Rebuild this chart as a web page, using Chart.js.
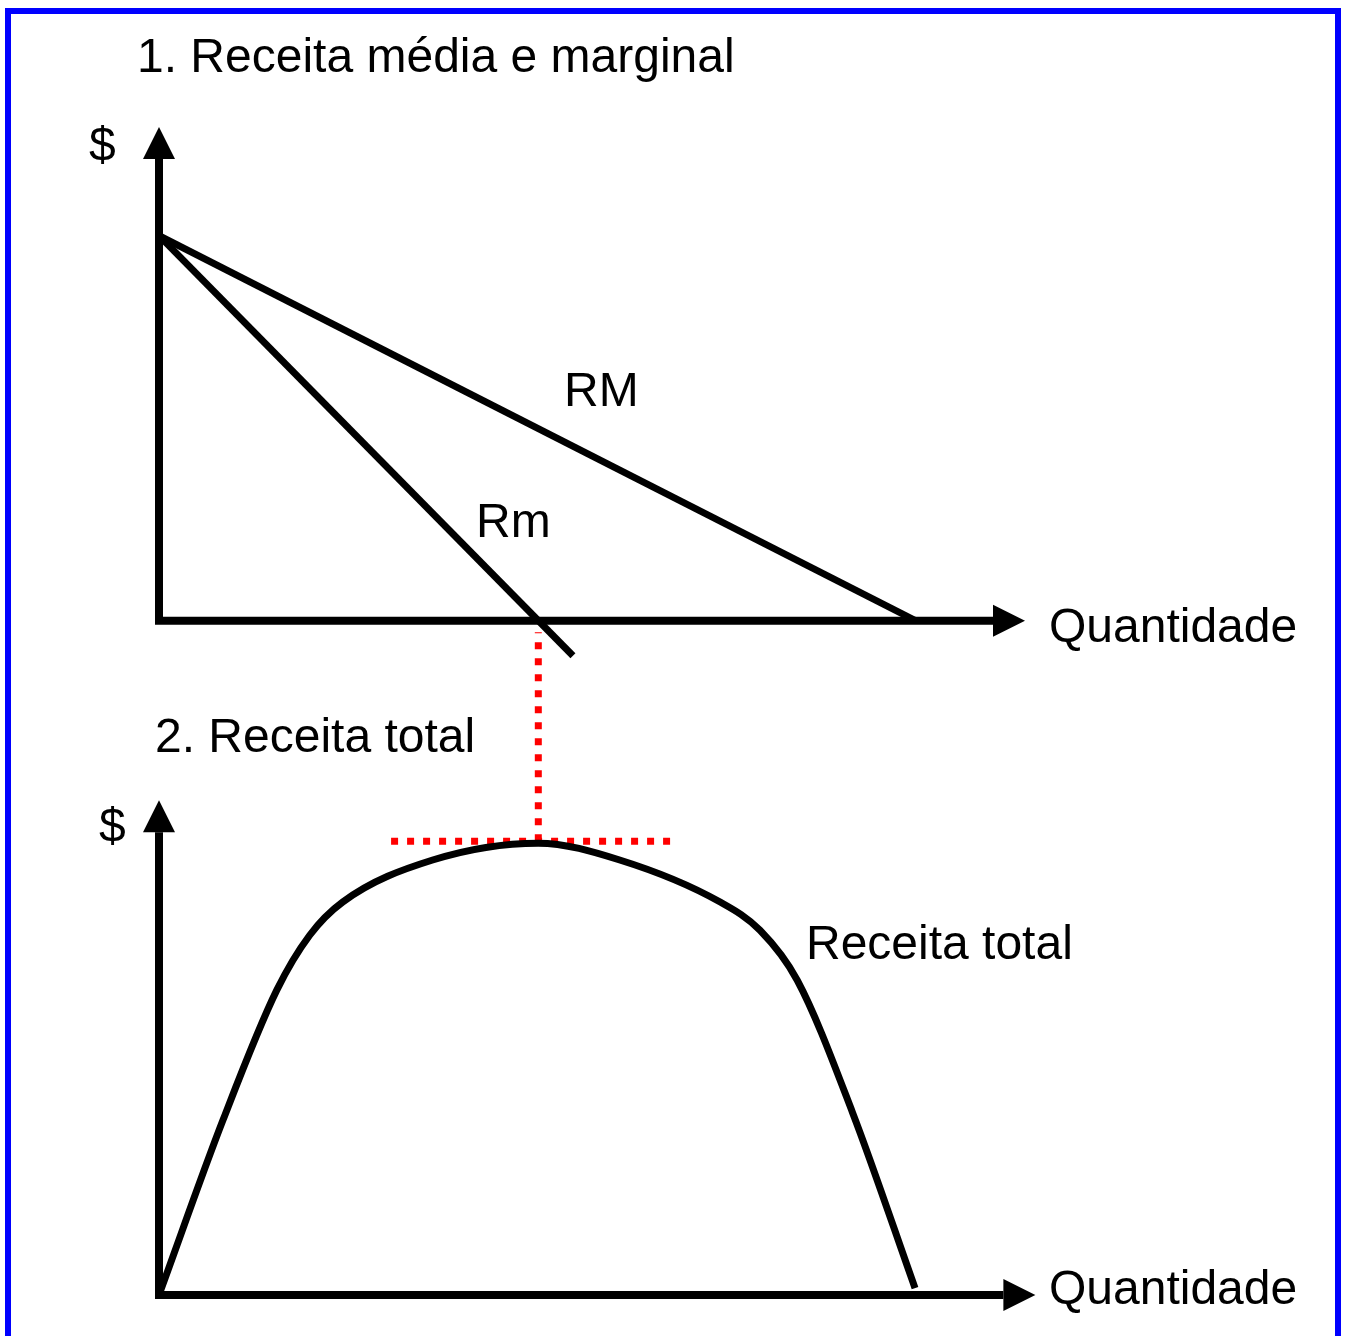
<!DOCTYPE html>
<html lang="pt">
<head>
<meta charset="utf-8">
<title>Receita média, marginal e total</title>
<script src="https://cdn.jsdelivr.net/npm/chart.js@4"></script>
<style>
  html, body { margin: 0; padding: 0; background: #fff; overflow: hidden; }
  body { width: 1346px; height: 1336px; position: relative; font-family: "Liberation Sans", Arial, sans-serif; }
  #marco { position: absolute; left: 5px; top: 8px; width: 1324px; height: 1340px; border: 6px solid #0000ff; }
  canvas { position: absolute; left: 0; top: 0; }
  .txt { position: absolute; font-size: 48px; line-height: 1; white-space: nowrap; color: #000; }
</style>
</head>
<body>
<div id="marco"></div>
<canvas id="grafico1" width="1346" height="1336"></canvas>
<canvas id="grafico2" width="1346" height="1336"></canvas>
<div class="txt" style="left:137px; top:32px;">1. Receita média e marginal</div>
<div class="txt" style="left:89px; top:121px;">$</div>
<div class="txt" style="left:564px; top:366px;">RM</div>
<div class="txt" style="left:476px; top:497px;">Rm</div>
<div class="txt" style="left:1049px; top:602px;">Quantidade</div>
<div class="txt" style="left:155px; top:712px;">2. Receita total</div>
<div class="txt" style="left:99px; top:802px;">$</div>
<div class="txt" style="left:806px; top:919px;">Receita total</div>
<div class="txt" style="left:1049px; top:1264px;">Quantidade</div>

<script>
// receita média (RM) e marginal (Rm)
const qMedia = [0, 87.4];
const rMedia = [78, 0];
const qMarginal = [0, 47.8];
const rMarginal = [78, -7.1];

// receita total
const qTotal = [0, 7.4, 13.6, 17.4, 21.2, 31.6, 43.8, 53.2, 64.8, 69.4, 73.7, 80.1, 87.3];
const rTotal = [0, 35.4, 61.6, 72.7, 79.4, 87.9, 91.3, 87.9, 79.4, 73.7, 63.6, 36.8, 1.4];

// linhas pontilhadas (máximo da receita total)
const qGuiaV = [43.8, 43.8];
const rGuiaV = [91.7, 133.9];
const qGuiaH = [26.8, 59.1];
const rGuiaH = [91.7, 91.7];

function pares(xs, ys) {
  return xs.map((x, i) => ({ x: x, y: ys[i] }));
}

// eixos com setas
const ejesPlugin = {
  id: 'ejes',
  afterDatasetsDraw(chart, args, opts) {
    const ctx = chart.ctx;
    const sx = chart.scales.x, sy = chart.scales.y;
    const x0 = sx.getPixelForValue(0), y0 = sy.getPixelForValue(0);
    const xt = sx.getPixelForValue(opts.xTip), yt = sy.getPixelForValue(opts.yTip);
    const L = 32, W = 16;
    ctx.save();
    ctx.strokeStyle = '#000';
    ctx.fillStyle = '#000';
    ctx.lineWidth = 8;
    ctx.lineJoin = 'miter';
    ctx.beginPath();
    ctx.moveTo(x0, yt + L);
    ctx.lineTo(x0, y0);
    ctx.lineTo(xt - L, y0);
    ctx.stroke();
    ctx.beginPath();
    ctx.moveTo(x0, yt);
    ctx.lineTo(x0 - W, yt + L);
    ctx.lineTo(x0 + W, yt + L);
    ctx.closePath();
    ctx.fill();
    ctx.beginPath();
    ctx.moveTo(xt, y0);
    ctx.lineTo(xt - L, y0 - W);
    ctx.lineTo(xt - L, y0 + W);
    ctx.closePath();
    ctx.fill();
    ctx.restore();
  }
};

function linha(data, cor, extra) {
  return Object.assign({
    data: data,
    showLine: true,
    borderColor: cor,
    borderWidth: 7,
    pointRadius: 0,
    fill: false,
    clip: false
  }, extra || {});
}

function crearGrafico(id, datasets, pad, yMin, yMax, xTip) {
  const ctx = document.getElementById(id).getContext('2d');
  return new Chart(ctx, {
    type: 'scatter',
    data: { datasets: datasets },
    options: {
      responsive: false,
      animation: false,
      events: [],
      layout: { padding: pad },
      plugins: {
        legend: { display: false },
        tooltip: { enabled: false },
        ejes: { xTip: xTip, yTip: 100 }
      },
      scales: {
        x: { type: 'linear', display: false, min: 0, max: 100 },
        y: { type: 'linear', display: false, min: yMin, max: yMax }
      }
    },
    plugins: [ejesPlugin]
  });
}

crearGrafico('grafico1', [
  linha(pares(qMedia, rMedia), '#000'),
  linha(pares(qMarginal, rMarginal), '#000')
], { left: 159, right: 321, top: 127, bottom: 656 }, -12, 100, 100);

crearGrafico('grafico2', [
  linha(pares(qTotal, rTotal), '#000', { cubicInterpolationMode: 'monotone' }),
  linha(pares(qGuiaV, rGuiaV), '#ff0000', { borderDash: [7, 9] }),
  linha(pares(qGuiaH, rGuiaH), '#ff0000', { borderDash: [7, 9] })
], { left: 159, right: 321, top: 620, bottom: 41 }, 0, 136.4, 101.2);
</script>
</body>
</html>
